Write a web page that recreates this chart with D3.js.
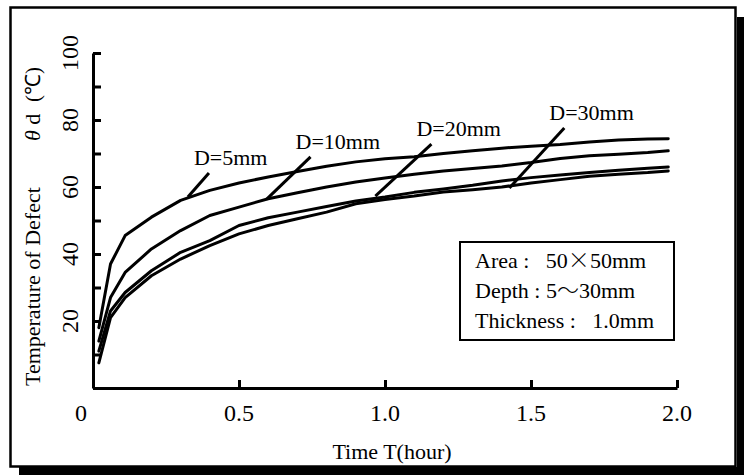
<!DOCTYPE html>
<html>
<head>
<meta charset="utf-8">
<script src="https://cdn.jsdelivr.net/npm/d3@7"></script>
<style>
html,body{margin:0;padding:0;background:#fff;}
svg{display:block;}
text{font-family:"Liberation Serif","Times New Roman",serif;fill:#000;}
.cjk{font-family:"Noto Sans CJK JP","Noto Sans CJK SC",sans-serif;font-weight:300;}
</style>
</head>
<body>
<svg id="chart" width="744" height="475"></svg>
<script>
// ---- data ----
const times = [0.02, 0.06, 0.11, 0.2, 0.3, 0.4, 0.5, 0.6, 0.7, 0.8, 0.9, 1.0, 1.1, 1.2, 1.3, 1.4, 1.5, 1.6, 1.7, 1.8, 1.9, 1.97];
const d5  = [18, 37, 45.5, 51, 56, 59, 61.2, 63, 64.6, 66.2, 67.5, 68.4, 69, 70, 70.8, 71.6, 72.2, 72.7, 73.4, 74, 74.3, 74.4];
const d10 = [14, 27, 34.5, 41.5, 47, 51.5, 54, 56.5, 58.3, 60, 61.5, 62.7, 63.8, 64.8, 65.5, 66.3, 67.3, 68.5, 69.3, 69.8, 70.3, 70.8];
const d20 = [11, 23, 28.5, 35, 40.5, 44, 48.5, 50.8, 52.5, 54.2, 55.8, 57, 58.4, 59.4, 60.5, 61.8, 62.8, 63.6, 64.3, 65, 65.6, 66];
const d30 = [7.5, 21, 27, 33.5, 38.5, 42.5, 46, 48.5, 50.5, 52.5, 55, 56.3, 57.3, 58.5, 59.2, 60, 61.2, 62.2, 63.2, 63.8, 64.3, 64.8];
const seriesNames = ["D=5mm", "D=10mm", "D=20mm", "D=30mm"];
// leader lines for the curve labels (data units: [t1, T1, t2, T2])
const leaders = [[0.397, 64.2, 0.325, 57], [0.745, 69, 0.595, 56.4], [1.159, 72.8, 0.967, 57.3], [1.614, 77.6, 1.426, 59.7]];
const xTicks = [0, 0.5, 1.0, 1.5, 2.0];
const xTickLabels = ["0", "0.5", "1.0", "1.5", "2.0"];
const yTicks = [0, 10, 20, 30, 40, 50, 60, 70, 80, 90, 100];
const yTickLabels = ["20", "40", "60", "80", "100"];
const yLabelValues = [20, 40, 60, 80, 100];
// legend lines: [before, special glyph, after]
const legendLines = [["Area :\u00A0\u00A0 50", "\u00D7", "50mm"], ["Depth : 5", "\uFF5E", "30mm"], ["Thickness :\u00A0\u00A0 1.0mm", "", ""]];

const svg = d3.select("#chart");

// frame with shadow
svg.append("rect").attr("x", 737).attr("y", 17).attr("width", 7).attr("height", 458).attr("fill", "#000");
svg.append("rect").attr("x", 19).attr("y", 467).attr("width", 725).attr("height", 8).attr("fill", "#000");
svg.append("rect").attr("x", 10.5).attr("y", 7.5).attr("width", 725).attr("height", 459)
  .attr("fill", "#fff").attr("stroke", "#000").attr("stroke-width", 2.5);

const x = d3.scaleLinear().domain([0, 2]).range([93, 677]);
const y = d3.scaleLinear().domain([0, 100]).range([388, 53]);

// axes
const g = svg.append("g");
const xAxis = d3.axisBottom(x).tickValues(xTicks).tickSizeInner(-8).tickSizeOuter(0).tickFormat("");
const yAxis = d3.axisLeft(y).tickValues(yTicks).tickSizeInner(-8).tickSizeOuter(0).tickFormat("");
g.append("g").attr("transform", `translate(0,${y(0)})`).call(xAxis);
g.append("g").attr("transform", `translate(${x(0)},0)`).call(yAxis);
g.selectAll(".domain, .tick line").attr("stroke", "#000").attr("stroke-width", 3);

// x tick labels
svg.selectAll(".xlab").data(xTicks).enter().append("text")
  .attr("x", (d, i) => x(d) - (i === 0 ? 12 : 0))
  .attr("y", 421)
  .attr("text-anchor", "middle")
  .attr("font-size", 24)
  .text((d, i) => xTickLabels[i]);

// y tick labels (rotated)
svg.selectAll(".ylab").data(yLabelValues).enter().append("text")
  .attr("transform", d => `translate(78,${y(d)}) rotate(-90)`)
  .attr("text-anchor", "middle")
  .attr("font-size", 24)
  .text((d, i) => yTickLabels[i]);

// axis titles
svg.append("text").attr("x", 392).attr("y", 459).attr("text-anchor", "middle")
  .attr("font-size", 22).text("Time T(hour)");
svg.append("text").attr("transform", "translate(40,386) rotate(-90)")
  .attr("font-size", 22).text("Temperature of Defect");
const t2 = svg.append("text").attr("transform", "translate(40,141) rotate(-90)").attr("font-size", 22);
t2.append("tspan").attr("font-style", "italic").text("\u03B8");
t2.append("tspan").text(" d");
svg.append("text").attr("transform", "translate(40,102) rotate(-90)")
  .attr("font-size", 21).text("(\u2103)");

// curves
const allSeries = [d5, d10, d20, d30];
const line = d3.line().x(d => x(d[0])).y(d => y(d[1]));
allSeries.forEach(s => {
  svg.append("path").datum(times.map((t, i) => [t, s[i]]))
    .attr("d", line).attr("fill", "none").attr("stroke", "#000")
    .attr("stroke-width", 3).attr("stroke-linejoin", "round").attr("stroke-linecap", "round");
});

// labels and leaders
leaders.forEach((l, i) => {
  svg.append("line").attr("x1", x(l[0])).attr("y1", y(l[1])).attr("x2", x(l[2])).attr("y2", y(l[3]))
    .attr("stroke", "#000").attr("stroke-width", 3);
  svg.append("text").attr("x", x(l[0]) - 15).attr("y", y(l[1]) - 8)
    .attr("font-size", 22).text(seriesNames[i]);
});

// legend box
svg.append("rect").attr("x", 460).attr("y", 242).attr("width", 214).attr("height", 98)
  .attr("fill", "#fff").attr("stroke", "#000").attr("stroke-width", 2);
legendLines.forEach((t, i) => {
  const tx = svg.append("text").attr("x", 475).attr("y", 268 + i * 30).attr("font-size", 22);
  tx.append("tspan").text(t[0]);
  if (t[1]) tx.append("tspan").attr("class", "cjk").text(t[1]);
  if (t[2]) tx.append("tspan").text(t[2]);
});
</script>
</body>
</html>
